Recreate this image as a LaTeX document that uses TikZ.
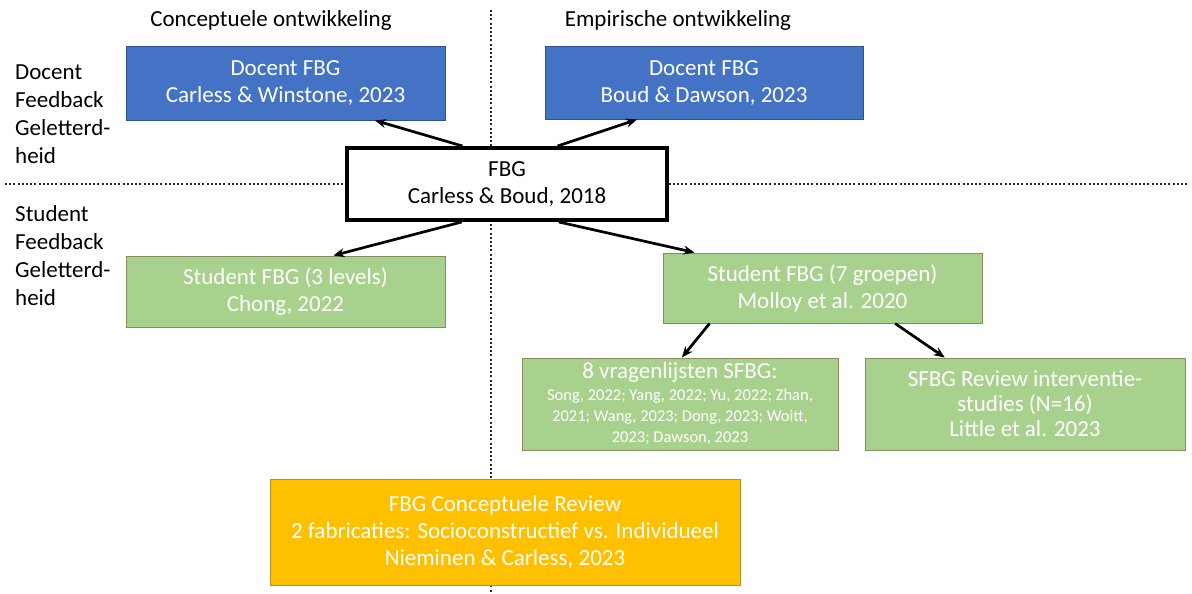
\documentclass[tikz,border=0pt]{standalone}
\usepackage{fontspec}
\setmainfont{Carlito}
\usetikzlibrary{arrows.meta,calc}
\definecolor{boxblue}{HTML}{4472C4}
\definecolor{boxblueline}{HTML}{2F528F}
\definecolor{boxgreen}{HTML}{A9D18E}
\definecolor{boxgreenline}{HTML}{8A8A5E}
\definecolor{boxorange}{HTML}{FFC000}
\definecolor{boxorangeline}{HTML}{B8902A}
\newcommand\smalltxt{\fontsize{16.5}{21}\selectfont}
\newcommand\bigtxt{\fontsize{23}{27}\selectfont}
\begin{document}
\begin{tikzpicture}[x=1pt,y=-1pt,
  sepline/.style={line width=2pt, dash pattern=on 2pt off 2.2pt, black!85},
  box/.style={inner sep=0pt, align=center, text=white, font=\bigtxt, line width=1pt},
  bluebox/.style={box, fill=boxblue, draw=boxblueline},
  greenbox/.style={box, fill=boxgreen, draw=boxgreenline},
  orangebox/.style={box, fill=boxorange, draw=boxorangeline},
  mainbox/.style={box, text=black, fill=white, draw=black, line width=4pt},
  lbl/.style={font=\fontsize{23}{28}\selectfont, align=left, inner sep=0pt},
  hdr/.style={font=\bigtxt, inner sep=0pt},
  link/.style={line width=2.7pt, -{Stealth[length=11pt,width=9pt]}}]
\useasboundingbox (0,0) rectangle (1192,594);

% separators
\coordinate (vtop) at (491,10);
\coordinate (vbot) at (491,594);
\coordinate (hl) at (5,184);
\coordinate (hr) at (1188,184);
\draw[sepline] (vtop) -- (vbot);
\draw[sepline] (hl) -- (hr);

% headers
\node[hdr] (h1) at (271,20) {Conceptuele ontwikkeling};
\node[hdr] (h2) at (678,20) {Empirische ontwikkeling};

% row labels
\node[lbl, anchor=west] (ldoc) at (15,114) {Docent\\Feedback\\Geletterd-\\heid};
\node[lbl, anchor=west] (lstu) at (15,256) {Student\\Feedback\\Geletterd-\\heid};

% boxes
\node[bluebox, minimum width=319pt, minimum height=73pt] (b1) at (285.5,83.5)
  {Docent FBG\\Carless \& Winstone, 2023};
\node[bluebox, minimum width=318pt, minimum height=72pt] (b2) at (704,83)
  {Docent FBG\\Boud \& Dawson, 2023};
\node[mainbox, minimum width=320pt, minimum height=72pt] (fbg) at (507,184)
  {FBG\\Carless \& Boud, 2018};
\node[greenbox, minimum width=319pt, minimum height=71pt] (g1) at (285.5,291.5)
  {Student FBG (3 levels)\\Chong, 2022};
\node[greenbox, minimum width=319pt, minimum height=70pt] (g2) at (822.5,288)
  {Student FBG (7 groepen)\\Molloy et al. 2020};
\node[greenbox, minimum width=316pt, minimum height=92pt, font=\smalltxt] (vr) at (680,404)
  {\bigtxt 8 vragenlijsten SFBG:\\[1pt]Song, 2022; Yang, 2022; Yu, 2022; Zhan,\\2021; Wang, 2023; Dong, 2023; Woitt,\\2023; Dawson, 2023};
\node[greenbox, minimum width=320pt, minimum height=92pt, font=\fontsize{23}{25}\selectfont] (sf) at (1025,404)
  {SFBG Review interventie-\\studies (N=16)\\Little et al. 2023};
\node[orangebox, minimum width=470pt, minimum height=106pt] (or) at (505,532)
  {FBG Conceptuele Review\\2 fabricaties: Socioconstructief vs. Individueel\\Nieminen \& Carless, 2023};

% connectors
\draw[link] ($(fbg.north west)!0.3625!(fbg.north east)$) -- ($(b1.south west)!0.78!(b1.south east)$);
\draw[link] ($(fbg.north west)!0.656!(fbg.north east)$) -- ($(b2.south west)!0.29!(b2.south east)$);
\draw[link] ($(fbg.south west)!0.36!(fbg.south east)$) -- ($(g1.north west)!0.65!(g1.north east)$);
\draw[link] ($(fbg.south west)!0.66!(fbg.south east)$) -- ($(g2.north west)!0.10!(g2.north east)$);
\draw[link] ($(g2.south west)!0.147!(g2.south east)$) -- ($(vr.north west)!0.506!(vr.north east)$);
\draw[link] ($(g2.south west)!0.727!(g2.south east)$) -- ($(sf.north west)!0.25!(sf.north east)$);
\end{tikzpicture}
\end{document}
